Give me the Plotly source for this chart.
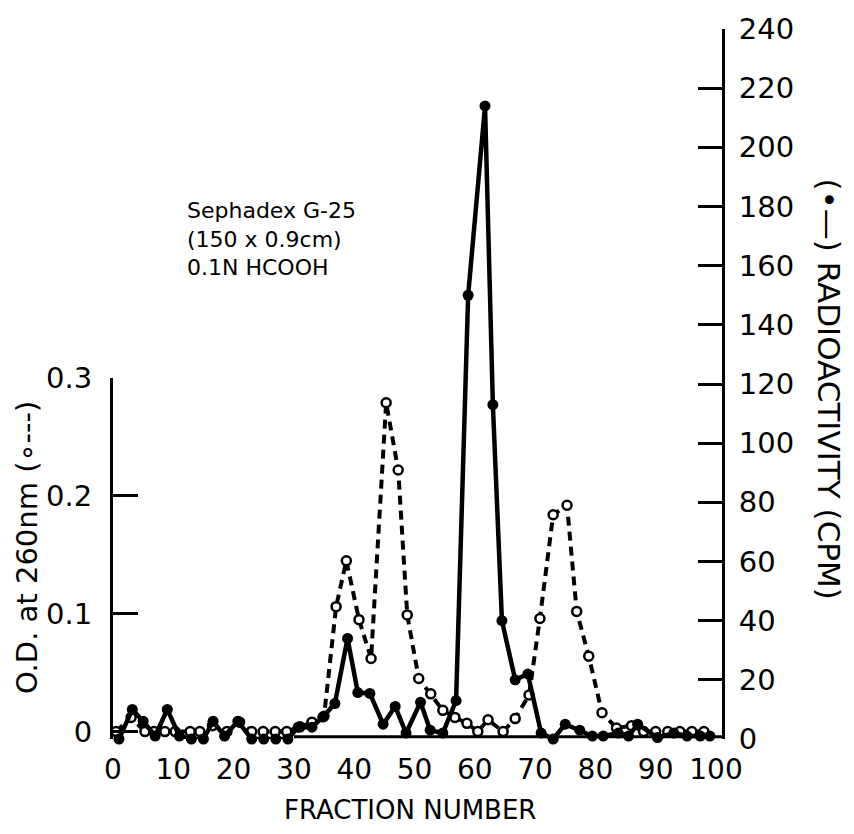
import plotly.graph_objects as go

# O.D. at 260 nm (open circles, dashed line)
od_fraction = [0.5, 3, 5.3, 6.8, 8.6, 10.3, 12.8, 14.4, 16.5, 18.9, 21, 23, 24.9, 26.9, 28.8,
               31, 33, 35, 37, 38.7, 40.8, 42.8, 45.3, 47.3, 48.8, 50.7, 52.7, 54.7, 56.7,
               58.7, 60.5, 62.2, 64.7, 66.7, 69, 70.8, 73, 75.3, 76.9, 78.9, 81.1, 83.5,
               86, 88, 90, 92, 94, 96, 98]
od_value = [0, 0.012, 0, 0, 0, 0, 0, 0, 0.005, 0, 0.008, 0, 0, 0, 0,
            0.004, 0.008, 0.013, 0.106, 0.145, 0.095, 0.062, 0.279, 0.222, 0.099, 0.045,
            0.032, 0.018, 0.012, 0.007, 0, 0.01, 0, 0.011, 0.031, 0.096, 0.184, 0.192,
            0.102, 0.064, 0.016, 0.003, 0.005, 0, 0, 0, 0, 0, 0]

# Radioactivity (filled dots, solid line)
cpm_fraction = [1, 3.2, 5, 7, 9, 11, 13, 15, 16.6, 18.5, 20.7, 23, 25, 27, 29, 30.7, 33,
                34.8, 36.8, 38.9, 40.6, 42.6, 44.8, 46.8, 48.6, 51, 52.6, 54.7, 56.9, 58.9,
                61.7, 63, 64.5, 66.7, 68.8, 71, 73, 75, 77.4, 79.5, 81.3, 83.8, 85.5, 87,
                90.3, 93, 95.2, 97.4, 99]
cpm_value = [0, 10, 6, 1, 10, 1, 0, 0, 6, 1, 6, 0, 0, 0, 0, 4, 4,
             7.4, 12, 34, 15.7, 15.4, 5, 11, 2, 12.4, 3, 2, 13, 150,
             214, 113, 40, 20, 22, 2, 0, 5, 3, 1, 1, 2, 1, 5,
             0.5, 2, 1, 1, 1]

x_ticks = list(range(0, 101, 10))
od_ticks = [0, 0.1, 0.2, 0.3]
od_ticktext = ["0", "0.1", "0.2", "0.3"]
cpm_ticks = list(range(0, 241, 20))

FONT = "DejaVu Sans"
fig = go.Figure()

fig.add_trace(go.Scatter(
    x=od_fraction, y=od_value, xaxis="x", yaxis="y", mode="lines+markers",
    line=dict(color="black", width=4, dash="9px,6px"),
    marker=dict(symbol="circle", size=9, color="white", line=dict(color="black", width=2.5)),
    cliponaxis=False, showlegend=False))

fig.add_trace(go.Scatter(
    x=cpm_fraction, y=cpm_value, xaxis="x", yaxis="y2", mode="lines+markers",
    line=dict(color="black", width=4.5),
    marker=dict(symbol="circle", size=11, color="black"),
    cliponaxis=False, showlegend=False))

fig.update_layout(
    width=854, height=834,
    margin=dict(l=113, r=132, t=21, b=95),
    paper_bgcolor="white", plot_bgcolor="rgba(0,0,0,0)",
    font=dict(family=FONT, color="black", size=29),
    xaxis=dict(range=[0, 101], domain=[0, 1], showline=False, showgrid=False, zeroline=False,
               ticks="", tickvals=x_ticks, ticktext=[str(v) for v in x_ticks],
               tickfont=dict(size=28), anchor="y", ticklabelstandoff=11),
    yaxis=dict(range=[-0.0063, 0.3], domain=[0, 0.5084], anchor="x", side="left",
               showline=True, linewidth=3, linecolor="black", showgrid=False, zeroline=False,
               ticks="inside", ticklen=25, tickwidth=3, tickcolor="black",
               tickvals=od_ticks, ticktext=od_ticktext, tickfont=dict(size=29),
               ticklabelstandoff=12),
    yaxis2=dict(range=[0, 240], domain=[0, 1], anchor="x", side="right",
                showline=True, linewidth=3, linecolor="black", showgrid=False, zeroline=False,
                ticks="inside", ticklen=24, tickwidth=3, tickcolor="black",
                tickvals=cpm_ticks, ticktext=[str(v) for v in cpm_ticks],
                tickfont=dict(size=29), ticklabelstandoff=8),
)

# partial bottom axis line
fig.add_shape(type="line", xref="x", yref="paper", x0=30, x1=101, y0=0.003, y1=0.003,
              line=dict(color="black", width=3))

fig.add_annotation(text="FRACTION NUMBER", xref="paper", yref="paper", x=0.488, y=-0.1,
                   showarrow=False, xanchor="center", yanchor="middle",
                   font=dict(size=26, family=FONT))
fig.add_annotation(text="O.D. at 260nm (∘---)", xref="paper", yref="paper", x=-0.14, y=0.27,
                   textangle=-90, showarrow=False, xanchor="center", yanchor="middle",
                   font=dict(size=29, family=FONT))
fig.add_annotation(text="(•—) RADIOACTIVITY (CPM)", xref="paper", yref="paper", x=1.175, y=0.493,
                   textangle=90, showarrow=False, xanchor="center", yanchor="middle",
                   font=dict(size=31, family=FONT))
fig.add_annotation(text="Sephadex G-25<br>(150 x 0.9cm)<br>0.1N HCOOH", xref="paper", yref="paper",
                   x=0.118, y=0.765, showarrow=False, xanchor="left", yanchor="top", align="left",
                   font=dict(size=22, family=FONT))

fig.write_html("out.html")
